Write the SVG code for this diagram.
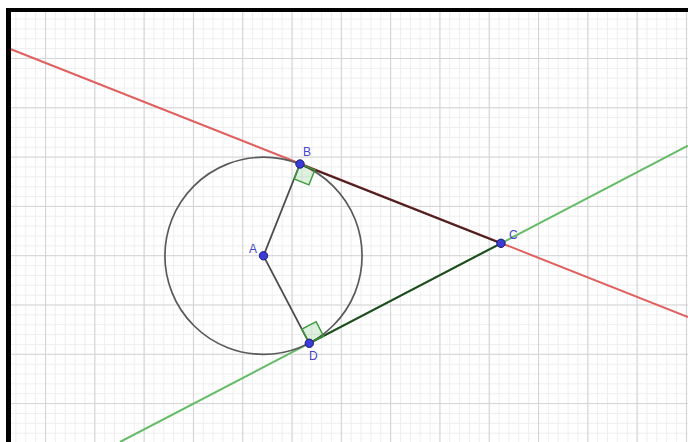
<svg xmlns="http://www.w3.org/2000/svg" width="688" height="442" viewBox="0 0 688 442">
<defs>
<pattern id="minor" patternUnits="userSpaceOnUse" x="45" y="8.7" width="9.86" height="9.86">
<path d="M0.5 0V9.86M0 0.5H9.86" stroke="#eeeeee" stroke-width="1" fill="none"/>
</pattern>
<pattern id="major" patternUnits="userSpaceOnUse" x="45" y="8.7" width="49.3" height="49.3">
<path d="M0.5 0V49.3M0 0.5H49.3" stroke="#d4d4d4" stroke-width="1.2" fill="none"/>
</pattern>
<style>
.pt{fill:#3b3bd6;stroke:#1a1a80;stroke-width:1}
.lbl{font-family:"Liberation Sans",Arial,sans-serif;font-size:12px;fill:#4444cc}
.ra{fill:rgba(0,140,0,0.13);stroke:#3a9a3a;stroke-width:1.4}
</style>
</defs>
<rect x="0" y="0" width="688" height="442" fill="#fff"/>
<rect x="11" y="12" width="677" height="430" fill="url(#minor)"/>
<rect x="11" y="12" width="677" height="430" fill="url(#major)"/>
<rect x="6" y="8" width="5" height="434" fill="#000"/>
<rect x="6" y="8" width="682" height="4" fill="#000"/>
<g id="connectors" fill="none">
<line x1="11" y1="49.2" x2="688" y2="317" stroke="#e06060" stroke-width="2"/>
<line x1="120" y1="442" x2="688" y2="145.7" stroke="#66bb66" stroke-width="2"/>
<circle cx="263.5" cy="255.8" r="98.6" stroke="#5a5a5a" stroke-width="1.7"/>
<line x1="263.5" y1="255.8" x2="300" y2="164" stroke="#4a4a4a" stroke-width="1.8"/>
<line x1="263.5" y1="255.8" x2="309.3" y2="343.3" stroke="#4a4a4a" stroke-width="1.8"/>
<line x1="300" y1="164" x2="501" y2="243.3" stroke="#4a2222" stroke-width="2"/>
<line x1="309.3" y1="343.3" x2="501" y2="243.3" stroke="#224a22" stroke-width="2"/>
</g>
<g id="rightB"><polygon class="ra" points="300,164 294,178.9 308.9,184.8 314.9,169.9"/></g>
<g id="rightD"><polygon class="ra" points="309.3,343.3 301.9,329.1 316.1,321.7 323.5,335.9"/></g>
<g id="A"><circle class="pt" cx="263.5" cy="255.8" r="4.2"/><text class="lbl" x="249" y="253">A</text></g>
<g id="B"><circle class="pt" cx="300" cy="164" r="4.2"/><text class="lbl" x="303" y="156">B</text></g>
<g id="C"><circle class="pt" cx="501" cy="243.3" r="4.2"/><text class="lbl" x="509" y="239">C</text></g>
<g id="D"><circle class="pt" cx="309.3" cy="343.3" r="4.2"/><text class="lbl" x="309" y="360">D</text></g>
</svg>
